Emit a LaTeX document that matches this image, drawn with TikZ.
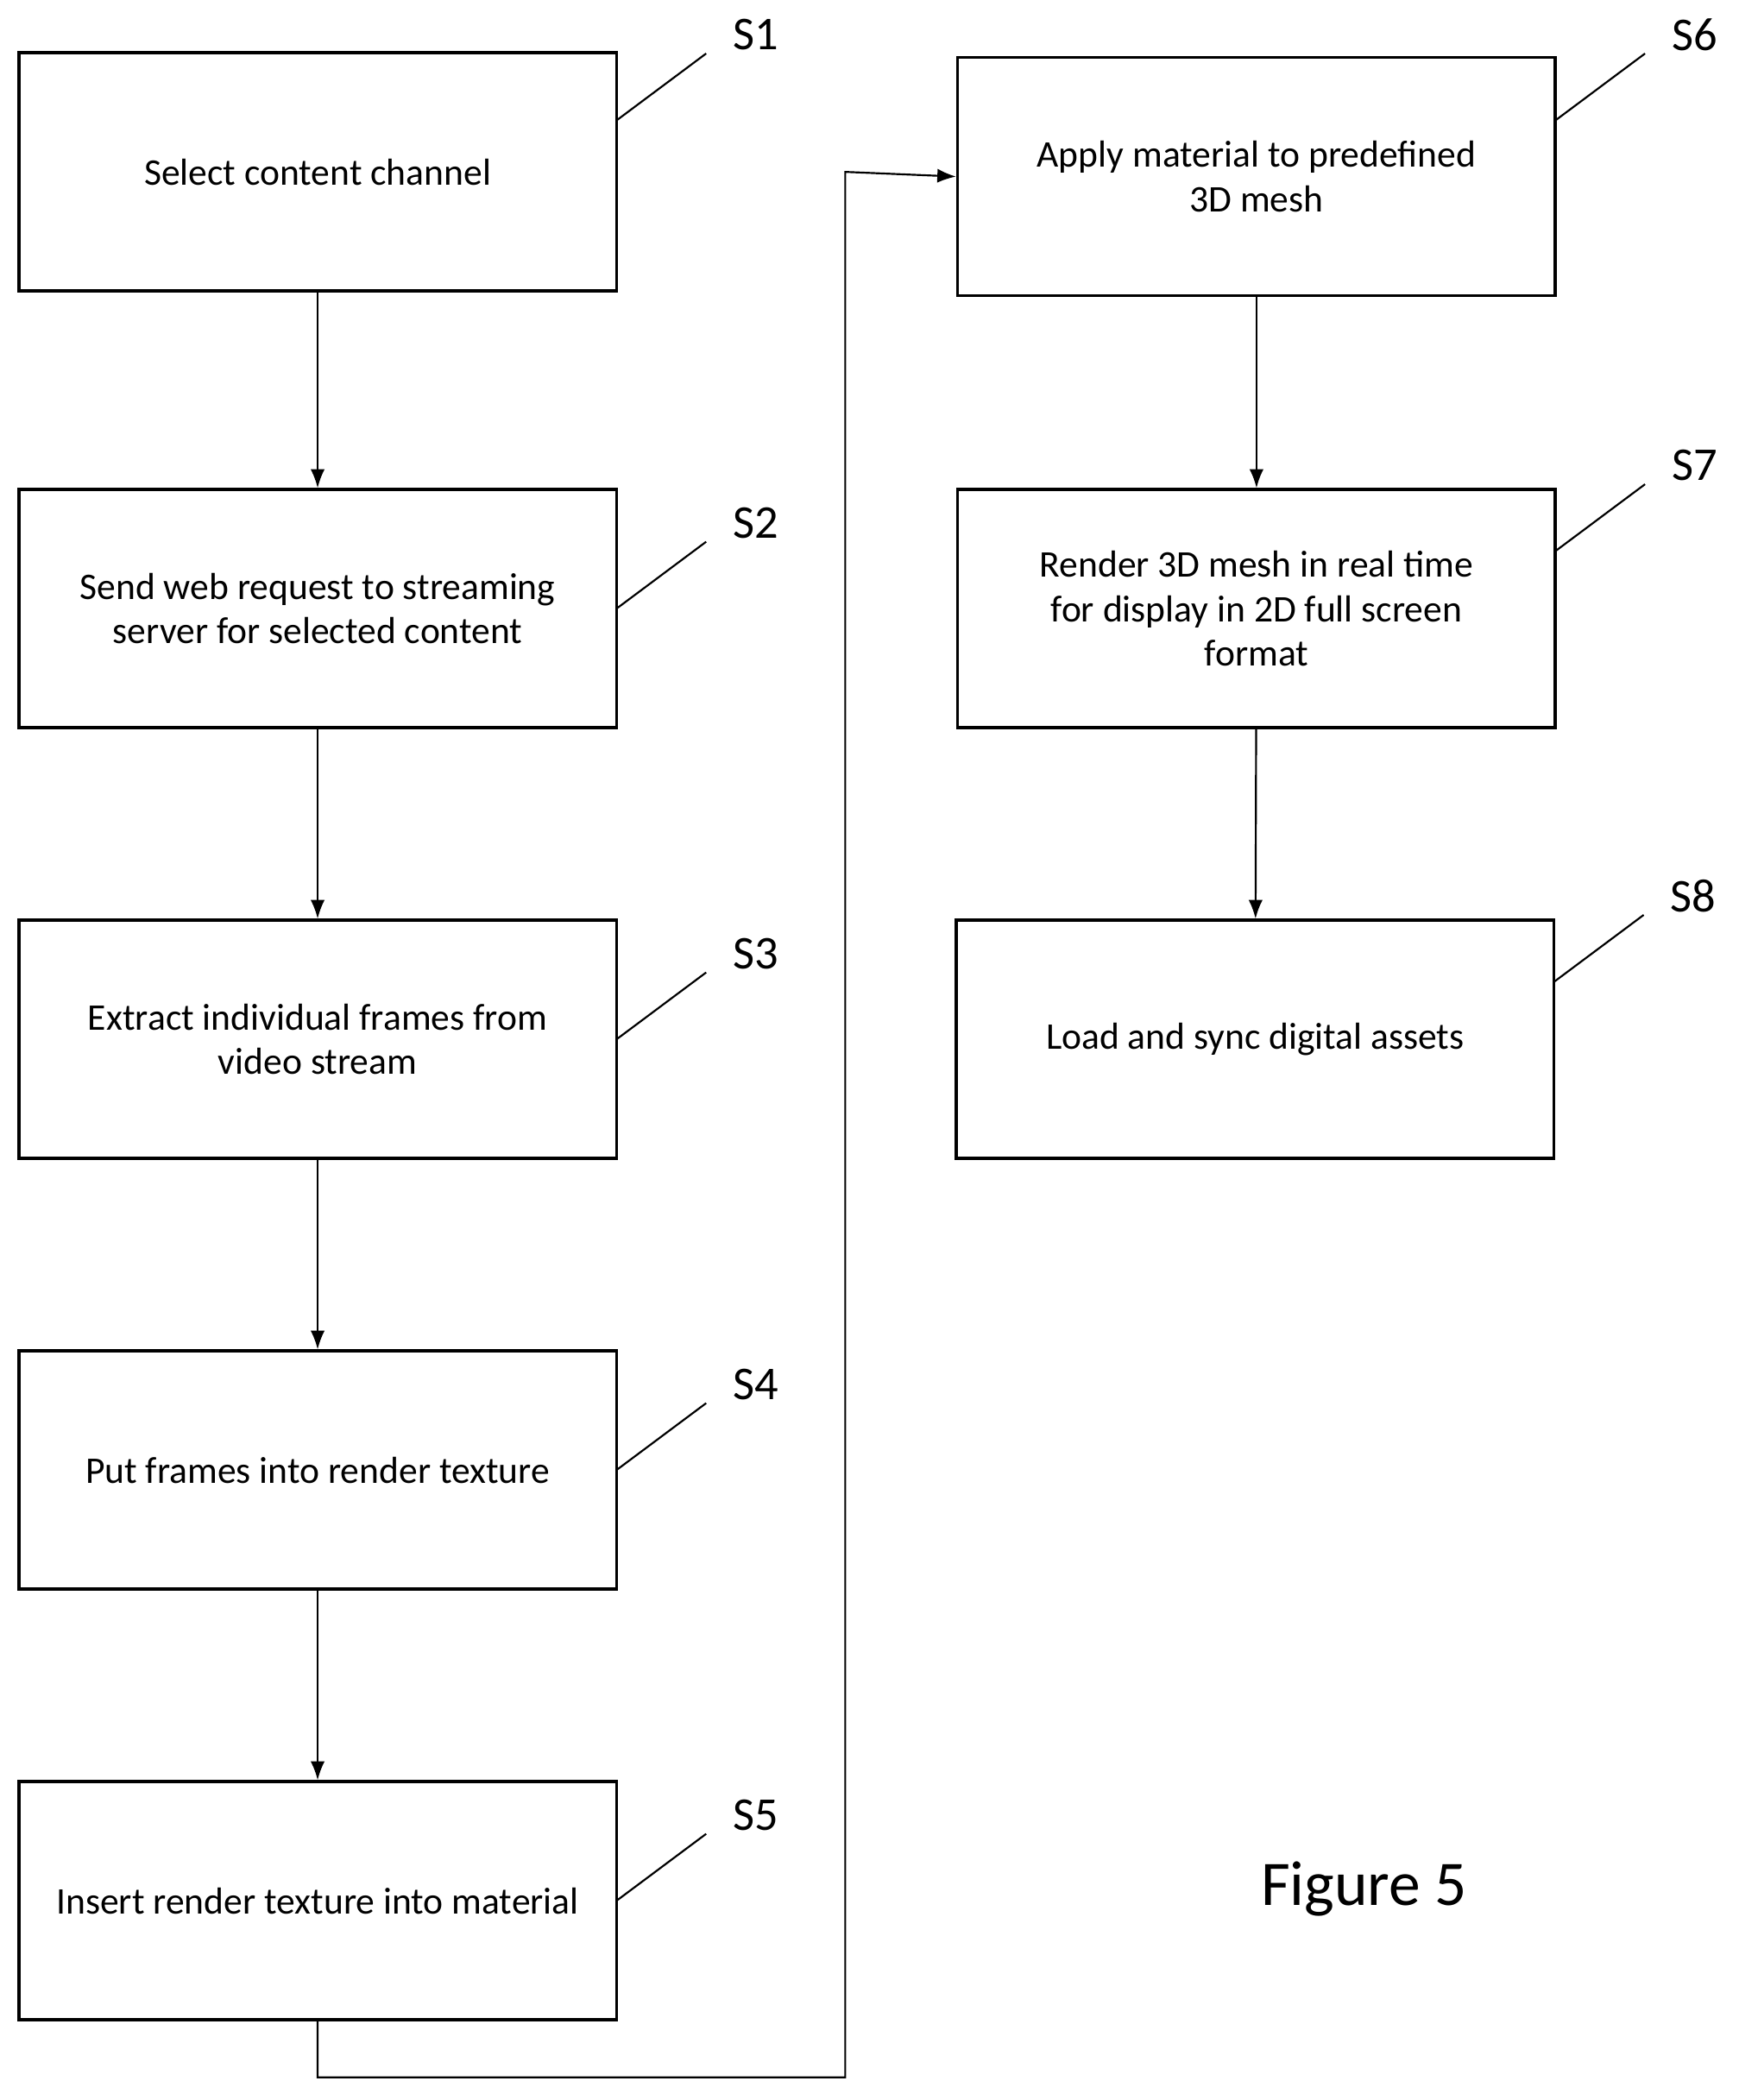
\documentclass[tikz,border=0pt]{standalone}
\usepackage{fontspec}
\setmainfont{Carlito}
\usetikzlibrary{arrows.meta}
\begin{document}
\begin{tikzpicture}[x=0.02cm,y=-0.02cm,
  box/.style={draw,line width=1.3pt,minimum width=8.94cm,minimum height=3.56cm,align=center,font=\fontsize{16}{19}\selectfont,inner sep=0pt},
  lab/.style={font=\fontsize{20}{24}\selectfont},
  arr/.style={-{Latex[length=8pt,width=6pt]},line width=0.8pt},
  lead/.style={line width=0.8pt}]
\useasboundingbox (0,0) rectangle (1300,1570);
\node[box] (s1) at (237.5,128.5) {Select content channel};
\node[box] (s2) at (237.5,455) {Send web request to streaming\\server for selected content};
\node[box] (s3) at (237.5,777) {Extract individual frames from\\video stream};
\node[box] (s4) at (237.5,1099) {Put frames into render texture};
\node[box] (s5) at (237.5,1421) {Insert render texture into material};
\node[box] (s6) at (939.5,132) {Apply material to predefined\\3D mesh};
\node[box] (s7) at (939.5,455) {Render 3D mesh in real time\\for display in 2D full screen\\format};
\node[box] (s8) at (938.5,777) {Load and sync digital assets};
\foreach \a/\b in {s1/s2,s2/s3,s3/s4,s4/s5,s6/s7,s7/s8} \draw[arr] (\a) -- (\b);
\coordinate (c1) at (237.5,1553);
\coordinate (c2) at (632,1553);
\coordinate (c3) at (632,128.5);
\draw[arr] (s5.south) -- (c1) -- (c2) -- (c3) -- (s6.west);
\foreach \n/\y/\x in {1/40/461,2/405/461,3/727/461,4/1049/461,5/1371/461,6/40/1163,7/362/1163,8/684/1162}{
  \coordinate (e\n) at (\x+67,\y);
  \draw[lead] (\x,\y+50) -- (e\n);
  \node[lab] (l\n) at (\x+104,\y-14) {S\n};
}
\node[font=\fontsize{27}{32}\selectfont] (fig) at (1020,1412) {Figure 5};
\end{tikzpicture}
\end{document}
